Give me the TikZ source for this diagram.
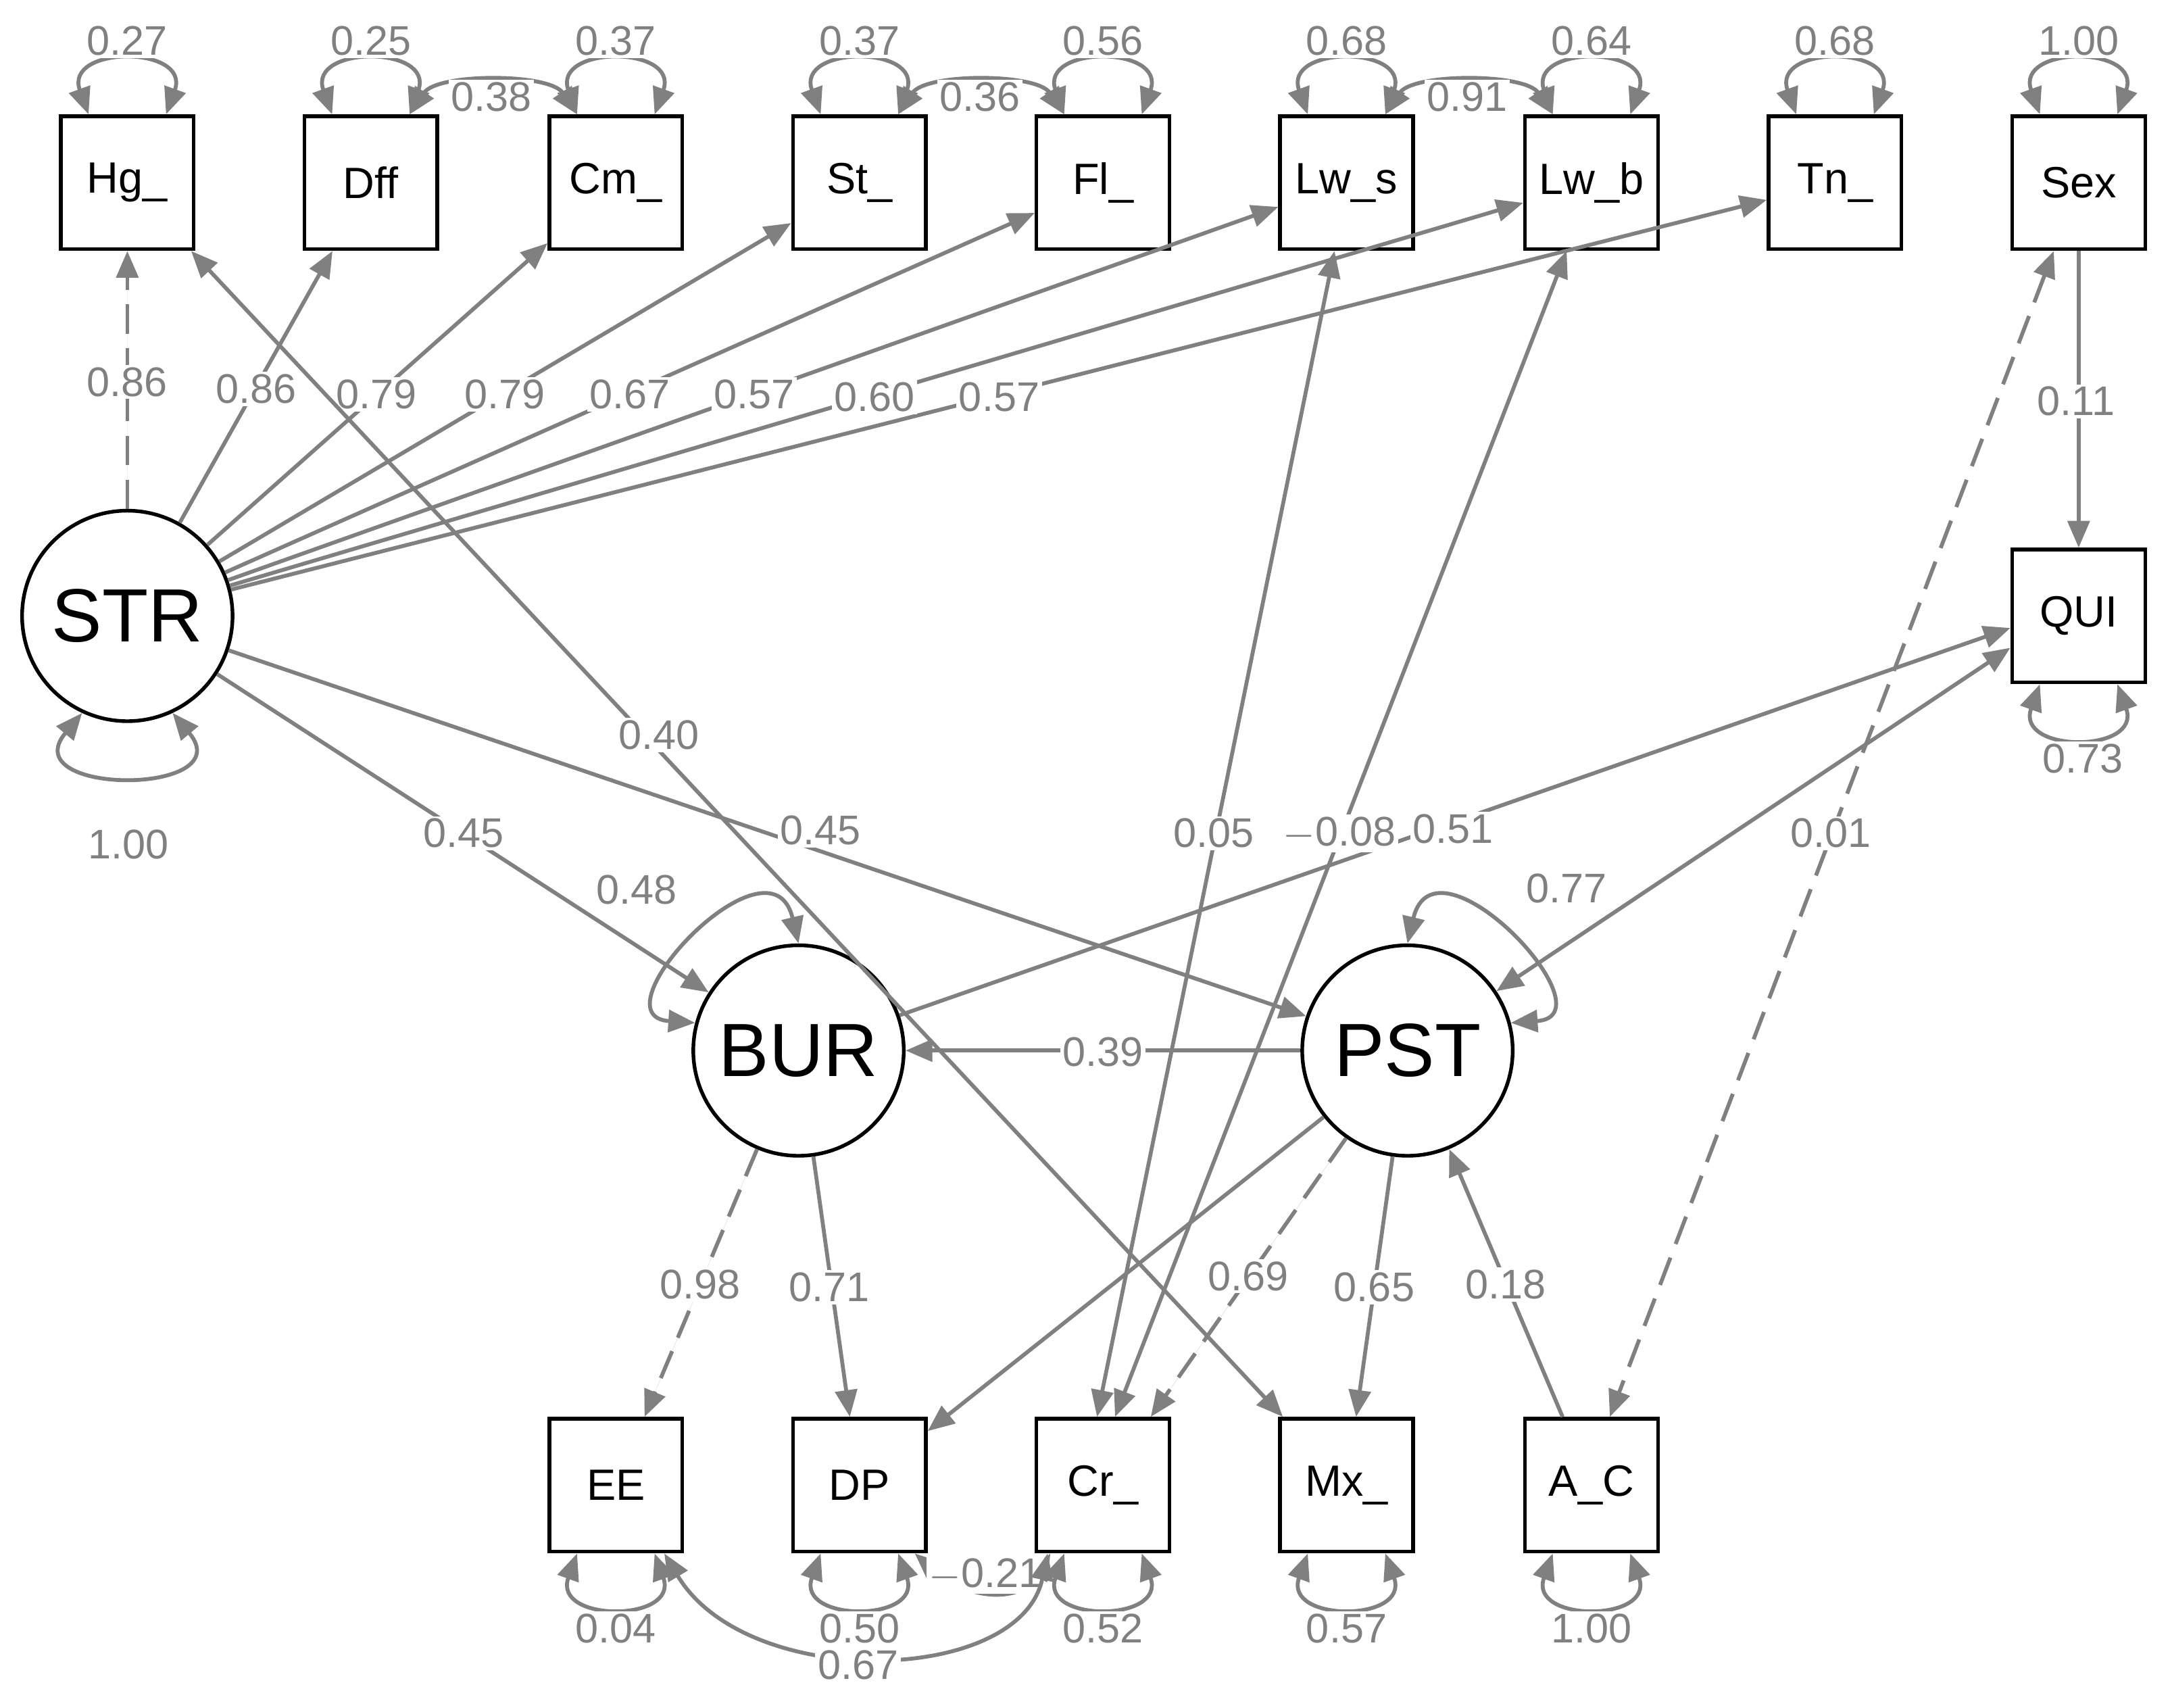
\documentclass[tikz,border=0pt]{standalone}
\usepackage{fontspec}
\setmainfont{Liberation Sans}
\usetikzlibrary{arrows.meta,calc}
\definecolor{eg}{RGB}{128,128,128}
\begin{document}
\begin{tikzpicture}[x=0.01cm,y=-0.01cm,
  box/.style={draw,line width=0.75pt,minimum size=0.96cm,inner sep=0pt,font=\fontsize{9}{10}\selectfont},
  lat/.style={draw,circle,line width=0.75pt,minimum size=1.52cm,inner sep=0pt,font=\fontsize{15.5}{17}\selectfont},
  ed/.style={draw=eg,line width=0.8pt,-{Triangle[length=5.5pt,width=4.5pt]},fill=eg},
  cov/.style={draw=eg,line width=0.8pt,{Triangle[length=5.5pt,width=4.5pt]}-{Triangle[length=5.5pt,width=4.5pt]}},
  dsh/.style={dash pattern=on 6pt off 3pt},
  lb/.style={fill=white,text=eg,inner sep=0.5pt,font=\fontsize{8.5}{9}\selectfont}]
\useasboundingbox (0,0) rectangle (1568,1234);
% boxes
\foreach \n/\t/\x in {hg/Hg\_/92,dff/Dff/268,cm/Cm\_/445,st/St\_/621,fl/Fl\_/797,lws/Lw\_s/973,lwb/Lw\_b/1150,tn/Tn\_/1326,sex/Sex/1502}
  \node[box] (\n) at (\x,132) {\t};
\node[box] (qui) at (1502,445) {QUI};
\foreach \n/\t/\x in {ee/EE/445,dp/DP/621,cr/Cr\_/797,mx/Mx\_/973,ac/A\_C/1150}
  \node[box] (\n) at (\x,1073) {\t};
\node[lat] (str) at (92,445) {STR};
\node[lat] (bur) at (577,759) {BUR};
\node[lat] (pst) at (1017,759) {PST};
% loops top
\foreach \n/\v in {hg/0.27,dff/0.25,cm/0.37,st/0.37,fl/0.56,lws/0.68,lwb/0.64,tn/0.68,sex/1.00}{
  \draw[cov] ($(\n.north)+(-28,0)$) .. controls +(-18,-50) and +(18,-50) .. ($(\n.north)+(28,0)$);
  \node[lb] (l\n) at ($(\n.north)+(0,-53)$) {\v};}
\foreach \n/\v in {ee/0.04,dp/0.50,cr/0.52,mx/0.57,ac/1.00}{
  \draw[cov] ($(\n.south)+(-28,0)$) .. controls +(-18,50) and +(18,50) .. ($(\n.south)+(28,0)$);
  \node[lb] (l\n) at ($(\n.south)+(0,54)$) {\v};}
\draw[cov] ($(qui.south)+(-28,0)$) .. controls +(-18,50) and +(18,50) .. ($(qui.south)+(28,0)$);
\node[lb] (lqui) at (1505,548) {0.73};
\draw[cov] (str.245) .. controls +(-50,60) and +(50,60) .. (str.295);
\node[lb] (lstr) at (93,610) {1.00};
\draw[cov] (bur.165) .. controls +(-75,-5) and +(-20,-85) .. (bur.90);
\node[lb] (lbur) at (460,643) {0.48};
\draw[cov] (pst.90) .. controls +(20,-85) and +(75,-5) .. (pst.15);
\node[lb] (lpst) at (1132,642) {0.77};
% top covariances
\draw[cov] ($(dff.north)+(28,0)$) .. controls +(20,-30) and +(-20,-30) .. ($(cm.north)+(-28,0)$);
\node[lb] (c1) at (355,70) {0.38};
\draw[cov] ($(st.north)+(28,0)$) .. controls +(20,-30) and +(-20,-30) .. ($(fl.north)+(-28,0)$);
\node[lb] (c2) at (708,70) {0.36};
\draw[cov] ($(lws.north)+(28,0)$) .. controls +(20,-30) and +(-20,-30) .. ($(lwb.north)+(-28,0)$);
\node[lb] (c3) at (1060,70) {0.91};
% bottom covariances
\draw[cov] ($(dp.south)+(40,0)$) .. controls +(40,35) and +(-20,35) .. ($(cr.south)+(-38,0)$);
\node[lb] (c4) at (712,1138) {$-$0.21};
\draw[cov] ($(ee.south)+(35,0)$) .. controls +(60,100) and +(-20,95) .. ($(cr.south)+(-40,0)$);
\node[lb] (c5) at (620,1203) {0.67};
% loadings STR
\draw[ed,dsh] (str) -- (hg);
\foreach \n in {dff,cm,st,fl,lws,lwb,tn} \draw[ed] (str) -- (\n);
\node[lb] (a1) at (92,276) {0.86};
\node[lb] (a2) at (185,281) {0.86};
\node[lb] (a3) at (272,285) {0.79};
\node[lb] (a4) at (365,285) {0.79};
\node[lb] (a5) at (455,285) {0.67};
\node[lb] (a6) at (545,285) {0.57};
\node[lb] (a7) at (632,287) {0.60};
\node[lb] (a8) at (722,287) {0.57};
% long covariances
\draw[cov] (hg) -- (mx);
\node[lb] (b1) at (476,531) {0.40};
\draw[cov] (cr.95) -- (lws.260);
\draw[cov] (cr.80) -- (lwb.250);
\draw[cov,dsh] (sex.250) -- (ac.75);
% structural
\draw[ed] (str) -- (bur);
\node[lb] (b2) at (335,602) {0.45};
\draw[ed] (str) -- (pst);
\node[lb] (b3) at (593,600) {0.45};
\draw[ed] (pst) -- (bur);
\node[lb] (b4) at (797,760) {0.39};
\draw[ed,dsh] (bur) -- (ee);
\draw[ed] (bur) -- (dp);
\draw[ed] (pst) -- (dp);
\draw[ed,dsh] (pst) -- (cr);
\draw[ed] (pst) -- (mx);
\draw[ed] (ac) -- (pst);
\draw[ed] (sex) -- (qui);
\draw[ed] (bur) -- (qui.190);
\draw[cov] (qui.205) -- (pst);
\node[lb] (d1) at (506,928) {0.98};
\node[lb] (d2) at (599,930) {0.71};
\node[lb] (d3) at (902,922) {0.69};
\node[lb] (d4) at (993,930) {0.65};
\node[lb] (d5) at (1088,928) {0.18};
\node[lb] (d6) at (1500,290) {0.11};
\node[lb] (d7) at (877,602) {0.05};
\node[lb] (d8) at (968,602) {$-$0.08};
\node[lb] (d9) at (1050,599) {0.51};
\node[lb] (d10) at (1323,602) {0.01};
\end{tikzpicture}
\end{document}
